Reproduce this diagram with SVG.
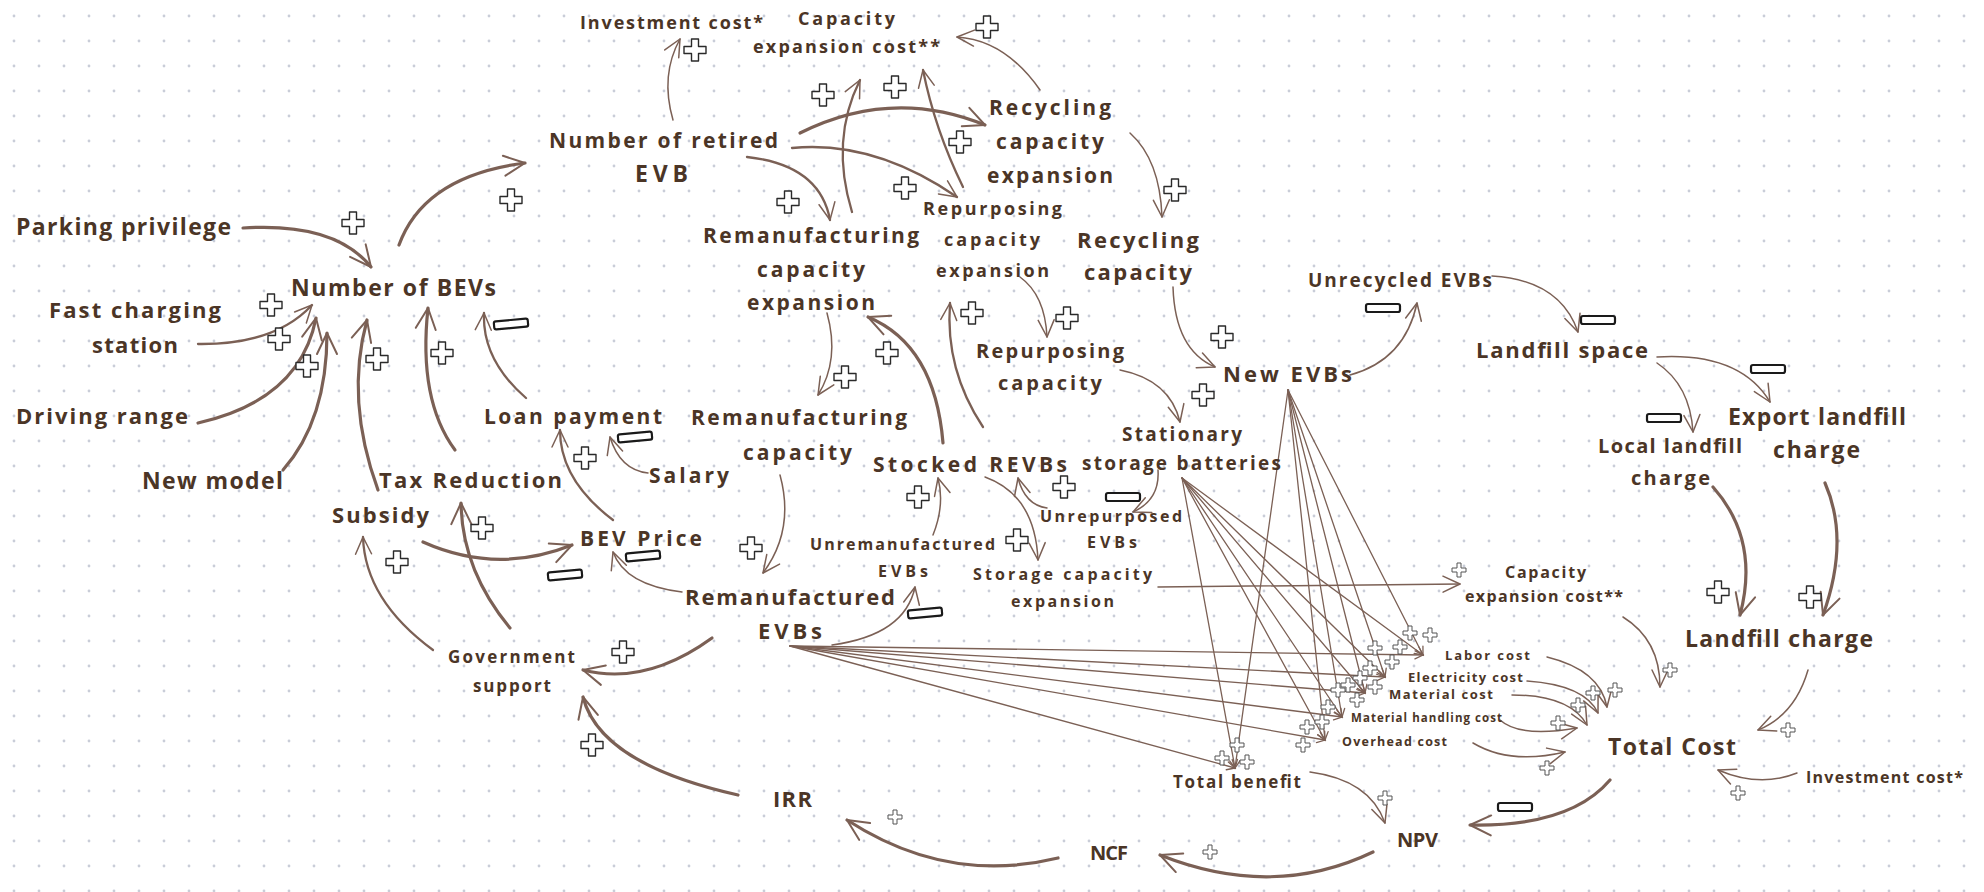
<svg xmlns="http://www.w3.org/2000/svg" xmlns:xlink="http://www.w3.org/1999/xlink" width="1984" height="892" viewBox="0 0 1984 892">
  <defs>
    <pattern id="dots" width="25" height="25" patternUnits="userSpaceOnUse">
      <circle cx="14" cy="16" r="1.4" fill="#c9cdd8"/>
    </pattern>
    <!-- open V arrowheads -->
    <marker id="ah" viewBox="-22 -11 24 22" refX="0" refY="0" markerWidth="24" markerHeight="22" orient="auto" markerUnits="userSpaceOnUse" overflow="visible">
      <path d="M-17,-8 L0,0 L-17,8" fill="none" stroke="#7b6055" stroke-width="1.5" stroke-linecap="round" stroke-linejoin="round"/>
    </marker>
    <marker id="ahb" viewBox="-26 -13 28 26" refX="0" refY="0" markerWidth="28" markerHeight="26" orient="auto" markerUnits="userSpaceOnUse" overflow="visible">
      <path d="M-21,-10 L0,0 L-21,10" fill="none" stroke="#7b6055" stroke-width="2" stroke-linecap="round" stroke-linejoin="round"/>
    </marker>
    <marker id="ahs" viewBox="-10 -6 12 12" refX="0" refY="0" markerWidth="12" markerHeight="12" orient="auto" markerUnits="userSpaceOnUse" overflow="visible">
      <path d="M-8,-4 L0,0 L-8,4" fill="none" stroke="#7b6055" stroke-width="1.3" stroke-linecap="round"/>
    </marker>
    <!-- polarity signs -->
    <path id="p" d="M-3.5,-11 H3.5 V-3.5 H11 V3.5 H3.5 V11 H-3.5 V3.5 H-11 V-3.5 H-3.5 Z" fill="#fff" stroke="#2a2a2a" stroke-width="1.4" stroke-linejoin="round"/>
    <path id="ps" d="M-2,-7 H2 V-2 H7 V2 H2 V7 H-2 V2 H-7 V-2 H-2 Z" fill="#fff" stroke="#555" stroke-width="1" stroke-linejoin="round"/>
    <rect id="m" x="-17" y="-4" width="34" height="8" rx="2" fill="#fff" stroke="#1a1a1a" stroke-width="2.2"/>
    <style>
      .t { font-family: "Open Sans", "Liberation Sans", sans-serif; font-weight: 700; fill: #4b3526; }
      .thin { stroke-width: 1.5; marker-end: url(#ah); }
      .med { stroke-width: 2.3; marker-end: url(#ah); }
      .bold { stroke-width: 3.2; marker-end: url(#ahb); }
      .fan { stroke-width: 1.3; marker-end: url(#ahs); }
    </style>
  </defs>

  <rect width="1984" height="892" fill="#ffffff"/>
  <rect width="1984" height="892" fill="url(#dots)"/>

  <g id="connectors" fill="none" stroke="#7b6055" stroke-linecap="round">
    <!-- into Number of BEVs -->
    <path class="bold" d="M243,228 Q335,222 371,267"/>
    <path class="med" d="M198,344 Q275,345 312,305"/>
    <path class="bold" d="M198,423 Q300,400 316,318"/>
    <path class="bold" d="M283,470 Q327,420 327,333"/>
    <path class="bold" d="M378,490 Q345,400 367,320"/>
    <path class="bold" d="M455,450 Q418,400 428,308"/>
    <path class="med" d="M526,398 Q482,360 484,313"/>
    <!-- Number of BEVs to retired EVB -->
    <path class="bold" d="M399,245 Q424,176 525,163"/>
    <!-- from Number of retired EVB -->
    <path class="thin" d="M673,120 Q660,75 680,39"/>
    <path class="med" d="M747,157 Q820,165 830,220"/>
    <path class="bold" d="M800,133 Q892,87 985,125"/>
    <path class="med" d="M792,148 Q874,140 957,197"/>
    <!-- capacity expansion cost (top) -->
    <path class="med" d="M852,212 Q830,140 860,80"/>
    <path class="med" d="M963,187 Q935,130 923,70"/>
    <path class="thin" d="M1040,90 Q1005,40 957,37"/>
    <!-- capacity chain -->
    <path class="thin" d="M1130,133 Q1160,160 1162,217"/>
    <path class="thin" d="M1020,277 Q1045,295 1047,337"/>
    <path class="thin" d="M1173,287 Q1175,350 1215,367"/>
    <path class="thin" d="M1120,370 Q1170,380 1180,422"/>
    <path class="thin" d="M827,313 Q840,360 818,395"/>
    <path class="bold" d="M943,443 Q935,345 868,317"/>
    <path class="med" d="M983,427 Q945,370 950,303"/>
    <!-- landfill chain -->
    <path class="thin" d="M1350,375 Q1405,360 1417,303"/>
    <path class="thin" d="M1492,276 Q1560,280 1578,332"/>
    <path class="thin" d="M1657,357 Q1740,352 1770,402"/>
    <path class="thin" d="M1657,363 Q1690,385 1693,432"/>
    <path class="bold" d="M1713,487 Q1760,540 1740,615"/>
    <path class="bold" d="M1825,483 Q1850,540 1823,615"/>
    <!-- into Total Cost -->
    <path class="thin" d="M1808,670 Q1795,715 1758,730"/>
    <path class="thin" d="M1797,773 Q1760,788 1718,770"/>
    <path class="thin" d="M1623,617 Q1660,640 1660,687"/>
    <path class="thin" d="M1547,657 Q1600,670 1607,707"/>
    <path class="thin" d="M1527,681 Q1585,685 1598,713"/>
    <path class="thin" d="M1512,695 Q1570,695 1587,725"/>
    <path class="thin" d="M1500,720 Q1520,738 1577,728"/>
    <path class="thin" d="M1473,743 Q1510,765 1565,752"/>
    <!-- financial loop -->
    <path class="bold" d="M1610,780 Q1570,827 1470,825"/>
    <path class="thin" d="M1310,772 Q1370,780 1385,823"/>
    <path class="bold" d="M1373,852 Q1273,900 1160,855"/>
    <path class="bold" d="M1058,858 Q947,885 847,820"/>
    <path class="bold" d="M738,795 Q600,764 583,697"/>
    <path class="bold" d="M712,638 Q646,686 583,670"/>
    <path class="med" d="M433,650 Q365,600 363,537"/>
    <path class="bold" d="M510,628 Q462,570 461,503"/>
    <path class="bold" d="M423,542 Q497,575 572,545"/>
    <path class="med" d="M613,520 Q560,480 560,430"/>
    <path class="thin" d="M648,473 Q620,470 610,437"/>
    <path class="thin" d="M682,592 Q625,585 613,552"/>
    <path class="thin" d="M780,475 Q795,530 763,573"/>
    <!-- stock and storage -->
    <path class="thin" d="M832,645 Q905,635 915,587"/>
    <path class="thin" d="M933,535 Q945,505 938,478"/>
    <path class="thin" d="M985,477 Q1035,495 1038,560"/>
    <path class="thin" d="M1047,508 Q1025,505 1018,478"/>
    <path class="thin" d="M1158,470 Q1160,500 1133,512"/>
    <path class="thin" d="M1158,587 L1460,584"/>
    <!-- cost fan from Remanufactured EVBs -->
    <path class="fan" d="M790,646 L1423,655"/>
    <path class="fan" d="M790,646 L1385,677"/>
    <path class="fan" d="M790,646 L1365,693"/>
    <path class="fan" d="M790,646 L1342,717"/>
    <path class="fan" d="M790,646 L1325,740"/>
    <path class="fan" d="M790,646 L1235,768"/>
    <!-- cost fan from Stationary storage batteries -->
    <path class="fan" d="M1182,478 L1423,655"/>
    <path class="fan" d="M1182,478 L1385,677"/>
    <path class="fan" d="M1182,478 L1365,693"/>
    <path class="fan" d="M1182,478 L1342,717"/>
    <path class="fan" d="M1182,478 L1325,740"/>
    <path class="fan" d="M1182,478 L1235,768"/>
    <!-- cost fan from New EVBs -->
    <path class="fan" d="M1288,390 L1423,655"/>
    <path class="fan" d="M1288,390 L1385,677"/>
    <path class="fan" d="M1288,390 L1365,693"/>
    <path class="fan" d="M1288,390 L1342,717"/>
    <path class="fan" d="M1288,390 L1325,740"/>
    <path class="fan" d="M1288,390 L1235,768"/>
  </g>

  <g id="polarity">
    <use href="#p" x="353" y="223"/>
    <use href="#p" x="271" y="305"/>
    <use href="#p" x="279" y="339"/>
    <use href="#p" x="307" y="366"/>
    <use href="#p" x="377" y="359"/>
    <use href="#p" x="442" y="353"/>
    <use href="#p" x="511" y="200"/>
    <use href="#p" x="695" y="50"/>
    <use href="#p" x="788" y="202"/>
    <use href="#p" x="960" y="142"/>
    <use href="#p" x="905" y="188"/>
    <use href="#p" x="823" y="95"/>
    <use href="#p" x="895" y="87"/>
    <use href="#p" x="987" y="27"/>
    <use href="#p" x="1175" y="190"/>
    <use href="#p" x="1067" y="318"/>
    <use href="#p" x="1222" y="337"/>
    <use href="#p" x="1203" y="395"/>
    <use href="#p" x="1718" y="592"/>
    <use href="#p" x="1810" y="597"/>
    <use href="#p" x="482" y="528"/>
    <use href="#p" x="397" y="562"/>
    <use href="#p" x="585" y="458"/>
    <use href="#p" x="751" y="548"/>
    <use href="#p" x="845" y="377"/>
    <use href="#p" x="887" y="353"/>
    <use href="#p" x="972" y="313"/>
    <use href="#p" x="918" y="497"/>
    <use href="#p" x="1017" y="540"/>
    <use href="#p" x="1064" y="487"/>
    <use href="#p" x="623" y="652"/>
    <use href="#p" x="592" y="745"/>
    <use href="#ps" x="895" y="817"/>
    <use href="#ps" x="1210" y="852"/>
    <use href="#ps" x="1385" y="798"/>
    <use href="#ps" x="1459" y="570"/>
    <use href="#ps" x="1788" y="730"/>
    <use href="#ps" x="1738" y="793"/>
    <use href="#ps" x="1670" y="670"/>
    <use href="#ps" x="1615" y="690"/>
    <use href="#ps" x="1593" y="693"/>
    <use href="#ps" x="1578" y="705"/>
    <use href="#ps" x="1558" y="723"/>
    <use href="#ps" x="1547" y="768"/>
    <use href="#ps" x="1410" y="633"/>
    <use href="#ps" x="1430" y="635"/>
    <use href="#ps" x="1375" y="648"/>
    <use href="#ps" x="1400" y="647"/>
    <use href="#ps" x="1392" y="662"/>
    <use href="#ps" x="1370" y="668"/>
    <use href="#ps" x="1360" y="678"/>
    <use href="#ps" x="1375" y="687"/>
    <use href="#ps" x="1348" y="685"/>
    <use href="#ps" x="1338" y="690"/>
    <use href="#ps" x="1357" y="700"/>
    <use href="#ps" x="1328" y="707"/>
    <use href="#ps" x="1322" y="722"/>
    <use href="#ps" x="1307" y="727"/>
    <use href="#ps" x="1303" y="745"/>
    <use href="#ps" x="1237" y="745"/>
    <use href="#ps" x="1222" y="758"/>
    <use href="#ps" x="1247" y="762"/>
    <use href="#m" transform="translate(511,324) rotate(-5)"/>
    <use href="#m" transform="translate(635,437) rotate(-5)"/>
    <use href="#m" transform="translate(643,556) rotate(-5)"/>
    <use href="#m" transform="translate(565,575) rotate(-5)"/>
    <use href="#m" transform="translate(925,613) rotate(-5)"/>
    <use href="#m" transform="translate(1123,497)"/>
    <use href="#m" transform="translate(1383,308)"/>
    <use href="#m" transform="translate(1598,320)"/>
    <use href="#m" transform="translate(1768,369)"/>
    <use href="#m" transform="translate(1664,418)"/>
    <use href="#m" transform="translate(1515,807)"/>
  </g>

  <g id="parking-privilege"><text class="t" x="16" y="235" font-size="23" textLength="215">Parking privilege</text></g>
  <g id="number-of-bevs"><text class="t" x="291" y="296" font-size="23" textLength="205">Number of BEVs</text></g>
  <g id="fast-charging-station">
    <text class="t" x="49" y="318" font-size="22" textLength="172">Fast charging</text>
    <text class="t" x="92" y="353" font-size="22" textLength="86">station</text>
  </g>
  <g id="driving-range"><text class="t" x="16" y="424" font-size="22" textLength="172">Driving range</text></g>
  <g id="new-model"><text class="t" x="142" y="489" font-size="23" textLength="141">New model</text></g>
  <g id="tax-reduction"><text class="t" x="379" y="488" font-size="22" textLength="183">Tax Reduction</text></g>
  <g id="subsidy"><text class="t" x="332" y="523" font-size="22" textLength="97">Subsidy</text></g>
  <g id="loan-payment"><text class="t" x="484" y="424" font-size="21" textLength="178">Loan payment</text></g>
  <g id="salary"><text class="t" x="649" y="483" font-size="21" textLength="80">Salary</text></g>
  <g id="bev-price"><text class="t" x="580" y="546" font-size="21" textLength="122">BEV Price</text></g>
  <g id="government-support">
    <text class="t" x="448" y="663" font-size="17" textLength="127">Government</text>
    <text class="t" x="473" y="692" font-size="17" textLength="78">support</text>
  </g>
  <g id="irr"><text class="t" x="773" y="807" font-size="22" textLength="39">IRR</text></g>
  <g id="ncf"><text class="t" x="1090" y="860" font-size="20" textLength="38">NCF</text></g>
  <g id="npv"><text class="t" x="1397" y="847" font-size="20" textLength="41">NPV</text></g>
  <g id="total-benefit"><text class="t" x="1173" y="788" font-size="17" textLength="128">Total benefit</text></g>
  <g id="total-cost"><text class="t" x="1608" y="755" font-size="23" textLength="128">Total Cost</text></g>
  <g id="investment-cost-right"><text class="t" x="1806" y="783" font-size="16" textLength="157">Investment cost*</text></g>
  <g id="landfill-charge"><text class="t" x="1685" y="647" font-size="23" textLength="188">Landfill charge</text></g>
  <g id="capacity-expansion-cost-right">
    <text class="t" x="1505" y="578" font-size="16" textLength="81">Capacity</text>
    <text class="t" x="1465" y="602" font-size="16" textLength="158">expansion cost**</text>
  </g>
  <g id="labor-cost"><text class="t" x="1445" y="660" font-size="13" textLength="85">Labor cost</text></g>
  <g id="electricity-cost"><text class="t" x="1408" y="682" font-size="13" textLength="115">Electricity cost</text></g>
  <g id="material-cost"><text class="t" x="1389" y="699" font-size="13" textLength="104">Material cost</text></g>
  <g id="material-handling-cost"><text class="t" x="1351" y="722" font-size="11.5" textLength="151">Material handling cost</text></g>
  <g id="overhead-cost"><text class="t" x="1342" y="746" font-size="12.5" textLength="105">Overhead cost</text></g>
  <g id="export-landfill-charge">
    <text class="t" x="1728" y="425" font-size="23" textLength="178">Export landfill</text>
    <text class="t" x="1773" y="458" font-size="23" textLength="87">charge</text>
  </g>
  <g id="local-landfill-charge">
    <text class="t" x="1598" y="453" font-size="20" textLength="144">Local landfill</text>
    <text class="t" x="1631" y="485" font-size="20" textLength="79">charge</text>
  </g>
  <g id="landfill-space"><text class="t" x="1476" y="358" font-size="22" textLength="172">Landfill space</text></g>
  <g id="unrecycled-evbs"><text class="t" x="1308" y="287" font-size="19" textLength="184">Unrecycled EVBs</text></g>
  <g id="new-evbs"><text class="t" x="1223" y="382" font-size="22" textLength="129">New EVBs</text></g>
  <g id="stationary-storage-batteries">
    <text class="t" x="1122" y="441" font-size="19" textLength="120">Stationary</text>
    <text class="t" x="1082" y="470" font-size="19" textLength="199">storage batteries</text>
  </g>
  <g id="unrepurposed-evbs">
    <text class="t" x="1040" y="522" font-size="16" textLength="142">Unrepurposed</text>
    <text class="t" x="1087" y="548" font-size="16" textLength="50">EVBs</text>
  </g>
  <g id="storage-capacity-expansion">
    <text class="t" x="973" y="580" font-size="16" textLength="179">Storage capacity</text>
    <text class="t" x="1011" y="607" font-size="16" textLength="103">expansion</text>
  </g>
  <g id="stocked-revbs"><text class="t" x="873" y="472" font-size="21" textLength="194">Stocked REVBs</text></g>
  <g id="unremanufactured-evbs">
    <text class="t" x="810" y="550" font-size="16" textLength="185">Unremanufactured</text>
    <text class="t" x="878" y="577" font-size="16" textLength="50">EVBs</text>
  </g>
  <g id="remanufactured-evbs">
    <text class="t" x="685" y="605" font-size="22" textLength="210">Remanufactured</text>
    <text class="t" x="758" y="639" font-size="22" textLength="64">EVBs</text>
  </g>
  <g id="remanufacturing-capacity">
    <text class="t" x="691" y="425" font-size="21" textLength="216">Remanufacturing</text>
    <text class="t" x="743" y="460" font-size="21" textLength="109">capacity</text>
  </g>
  <g id="repurposing-capacity">
    <text class="t" x="976" y="358" font-size="20" textLength="148">Repurposing</text>
    <text class="t" x="998" y="390" font-size="20" textLength="104">capacity</text>
  </g>
  <g id="recycling-capacity">
    <text class="t" x="1077" y="248" font-size="22" textLength="122">Recycling</text>
    <text class="t" x="1084" y="280" font-size="22" textLength="108">capacity</text>
  </g>
  <g id="repurposing-capacity-expansion">
    <text class="t" x="923" y="215" font-size="18" textLength="139">Repurposing</text>
    <text class="t" x="944" y="246" font-size="18" textLength="96">capacity</text>
    <text class="t" x="936" y="277" font-size="18" textLength="113">expansion</text>
  </g>
  <g id="recycling-capacity-expansion">
    <text class="t" x="989" y="115" font-size="21" textLength="122">Recycling</text>
    <text class="t" x="996" y="149" font-size="21" textLength="108">capacity</text>
    <text class="t" x="987" y="183" font-size="21" textLength="126">expansion</text>
  </g>
  <g id="remanufacturing-capacity-expansion">
    <text class="t" x="703" y="243" font-size="21" textLength="216">Remanufacturing</text>
    <text class="t" x="757" y="277" font-size="21" textLength="108">capacity</text>
    <text class="t" x="747" y="310" font-size="21" textLength="128">expansion</text>
  </g>
  <g id="number-of-retired-evb">
    <text class="t" x="549" y="148" font-size="21" textLength="229">Number of retired</text>
    <text class="t" x="635" y="182" font-size="23" textLength="53">EVB</text>
  </g>
  <g id="investment-cost-top"><text class="t" x="580" y="29" font-size="18" textLength="183">Investment cost*</text></g>
  <g id="capacity-expansion-cost-top">
    <text class="t" x="798" y="25" font-size="18" textLength="97">Capacity</text>
    <text class="t" x="753" y="53" font-size="18" textLength="187">expansion cost**</text>
  </g>
</svg>
